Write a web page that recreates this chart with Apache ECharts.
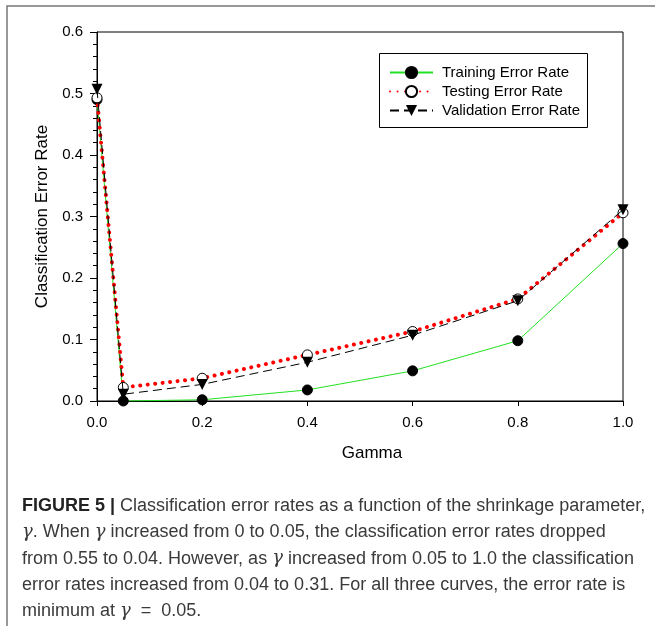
<!DOCTYPE html>
<html>
<head>
<meta charset="utf-8">
<script src="https://cdn.jsdelivr.net/npm/echarts@6/dist/echarts.min.js"></script>
<style>
  html, body { margin: 0; padding: 0; background: #fff; }
  #chart { width: 655px; height: 627px; }
</style>
</head>
<body>
<div id="chart"></div>
<script>
  // gamma values on the x axis
  var gammaValues = [0, 0.05, 0.2, 0.4, 0.6, 0.8, 1.0];
  // error rates
  var trainingRates = [0.49, 0.0, 0.002, 0.018, 0.049, 0.098, 0.256];
  var testingRates = [0.493, 0.022, 0.037, 0.075, 0.113, 0.166, 0.306];
  var validationRates = [0.507, 0.011, 0.027, 0.063, 0.107, 0.163, 0.311];
  var seriesNames = ['Training Error Rate', 'Testing Error Rate', 'Validation Error Rate'];

  var captionLines = [
    '{b|FIGURE 5 |} Classification error rates as a function of the shrinkage parameter,',
    '{g|γ}. When {g|γ} increased from 0 to 0.05, the classification error rates dropped',
    'from 0.55 to 0.04. However, as {g|γ} increased from 0.05 to 1.0 the classification',
    'error rates increased from 0.04 to 0.31. For all three curves, the error rate is',
    'minimum at {g|γ}  =  0.05.'
  ];

  function pairs(ys) {
    return gammaValues.map(function (x, i) { return [x, ys[i]]; });
  }

  var chart = echarts.init(document.getElementById('chart'), null, { renderer: 'canvas' });

  // caption under the plot, one text per line
  var captionText = captionLines.map(function (line, i) {
    return {
      type: 'text',
      x: 0,
      y: i * 26.3,
      style: {
        text: line,
        fill: '#3a3a3a',
        font: '18px "Liberation Sans", Arial, sans-serif',
        rich: {
          b: { fontWeight: 'bold', fontSize: 18, fill: '#222', fontFamily: '"Liberation Sans", Arial' },
          g: { fontStyle: 'italic', fontSize: 18, fontFamily: '"DejaVu Serif", serif', fill: '#3a3a3a' }
        }
      }
    };
  });

  var option = {
    backgroundColor: '#fff',
    animation: false,
    grid: {
      left: 97,
      top: 32,
      width: 526,
      height: 369,
      show: true,
      borderColor: '#000',
      borderWidth: 1,
      backgroundColor: 'transparent'
    },
    legend: {
      left: 389,
      top: 65,
      orient: 'vertical',
      itemWidth: 43,
      itemHeight: 14,
      itemGap: 4,
      selectedMode: false,
      padding: 0,
      textStyle: {
        color: '#000',
        fontSize: 15,
        fontFamily: '"Liberation Sans", Arial, sans-serif',
        padding: [0, 0, 0, 4]
      },
      data: seriesNames
    },
    xAxis: {
      type: 'value',
      min: 0,
      max: 1,
      interval: 0.2,
      name: 'Gamma',
      nameLocation: 'middle',
      nameGap: 44,
      nameTextStyle: { color: '#000', fontSize: 17, fontFamily: '"Liberation Sans", Arial', padding: [0, 0, 0, 24] },
      axisLine: { lineStyle: { color: '#000', width: 1 } },
      axisTick: { inside: false, length: 5, lineStyle: { color: '#000' } },
      axisLabel: {
        color: '#000',
        fontSize: 15,
        margin: 14,
        fontFamily: '"Liberation Sans", Arial',
        formatter: function (v) { return v.toFixed(1); }
      },
      splitLine: { show: false }
    },
    yAxis: {
      type: 'value',
      min: 0,
      max: 0.6,
      interval: 0.1,
      name: 'Classification Error Rate',
      nameLocation: 'middle',
      nameGap: 46,
      nameTextStyle: { color: '#000', fontSize: 17, fontFamily: '"Liberation Sans", Arial' },
      axisLine: { show: true, lineStyle: { color: '#000', width: 1 } },
      axisTick: { show: true, inside: false, length: 7, lineStyle: { color: '#000' } },
      minorTick: { show: true, splitNumber: 5, length: 4, lineStyle: { color: '#000' } },
      axisLabel: {
        color: '#000',
        fontSize: 15,
        margin: 14,
        fontFamily: '"Liberation Sans", Arial',
        formatter: function (v) { return v.toFixed(1); }
      },
      splitLine: { show: false }
    },
    series: [
      {
        name: seriesNames[0],
        type: 'line',
        data: pairs(trainingRates),
        symbol: 'circle',
        symbolSize: 10,
        z: 3,
        lineStyle: { color: '#22e022', width: 1 },
        itemStyle: { color: '#000', borderColor: '#000', borderWidth: 1 }
      },
      {
        name: seriesNames[1],
        type: 'line',
        data: pairs(testingRates),
        symbol: 'circle',
        symbolSize: 10,
        z: 4,
        lineStyle: { color: '#ff0000', width: 4, type: [0.01, 7.5], cap: 'round' },
        itemStyle: { color: '#fff', borderColor: '#000', borderWidth: 1 }
      },
      {
        name: seriesNames[2],
        type: 'line',
        data: pairs(validationRates),
        symbol: 'triangle',
        symbolRotate: 180,
        symbolSize: 11,
        z: 5,
        lineStyle: { color: '#000', width: 1, type: [9, 5] },
        itemStyle: { color: '#000' }
      }
    ],
    graphic: [
      {
        type: 'rect',
        shape: { x: 379.5, y: 53.5, width: 208, height: 74 },
        style: { fill: 'none', stroke: '#000', lineWidth: 1 },
        z: 1
      },
      {
        type: 'polyline',
        shape: { points: [[7, 626], [7, 6], [655, 6]] },
        style: { fill: 'none', stroke: '#777', lineWidth: 1.5 }
      },
      {
        type: 'group',
        left: 22,
        top: 497,
        children: captionText
      }
    ]
  };

  chart.setOption(option);
</script>
</body>
</html>
